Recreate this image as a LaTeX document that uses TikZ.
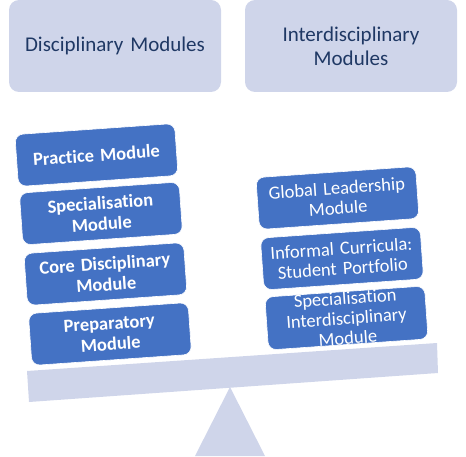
\documentclass[tikz,border=0pt]{standalone}
\usepackage{fontspec}
\setmainfont{Carlito}[Ligatures={NoCommon}]
\definecolor{lav}{HTML}{CFD5EA}
\definecolor{navy}{HTML}{1F3864}
\definecolor{modblue}{HTML}{4472C4}
\begin{document}
\begin{tikzpicture}[x=1pt,y=1pt,
  topbox/.style={fill=lav, draw=none, rounded corners=10pt, minimum width=212pt, minimum height=92pt,
    text=navy, font=\fontsize{21}{24}\selectfont, align=center, inner sep=0pt, text width=200pt},
  modbox/.style={fill=modblue, draw=white, line width=0.6pt, rounded corners=8pt, minimum width=160pt,
    minimum height=52pt, text=white, align=center, inner sep=0pt, text width=158pt, rotate=4},
  modboxL/.style={modbox, font=\bfseries\fontsize{18.5}{21}\selectfont},
  modboxR/.style={modbox, font=\fontsize{18.5}{20}\selectfont},
  lavshape/.style={fill=lav, draw=none}]
\useasboundingbox (0,0) rectangle (466,456);
% top boxes
\node[topbox] (disc) at (115,410) {Disciplinary Modules};
\node[topbox] (inter) at (351,410) {Interdisciplinary\\Modules};
% fulcrum and beam
\fill[lavshape] (230,69) -- (265,0) -- (195,0) -- cycle;
\fill[lavshape] (27,85) -- (437,113) -- (438,83) -- (29,54) -- cycle;
% left stack
\node[modboxL] (prac) at (96.5,301) {Practice Module};
\node[modboxL] (spec) at (101,242.5) {Specialisation\\Module};
\node[modboxL] (core) at (105.5,182) {Core Disciplinary\\Module};
\node[modboxL] (prep) at (110,122) {Preparatory\\Module};
% right stack
\node[modboxR] (glob) at (337.5,258) {Global Leadership\\Module};
\node[modboxR] (info) at (342,197.5) {Informal Curricula:\\Student Portfolio};
\node[modboxR] (spint) at (346.5,138) {Specialisation\\Interdisciplinary\\Module};
\end{tikzpicture}
\end{document}
